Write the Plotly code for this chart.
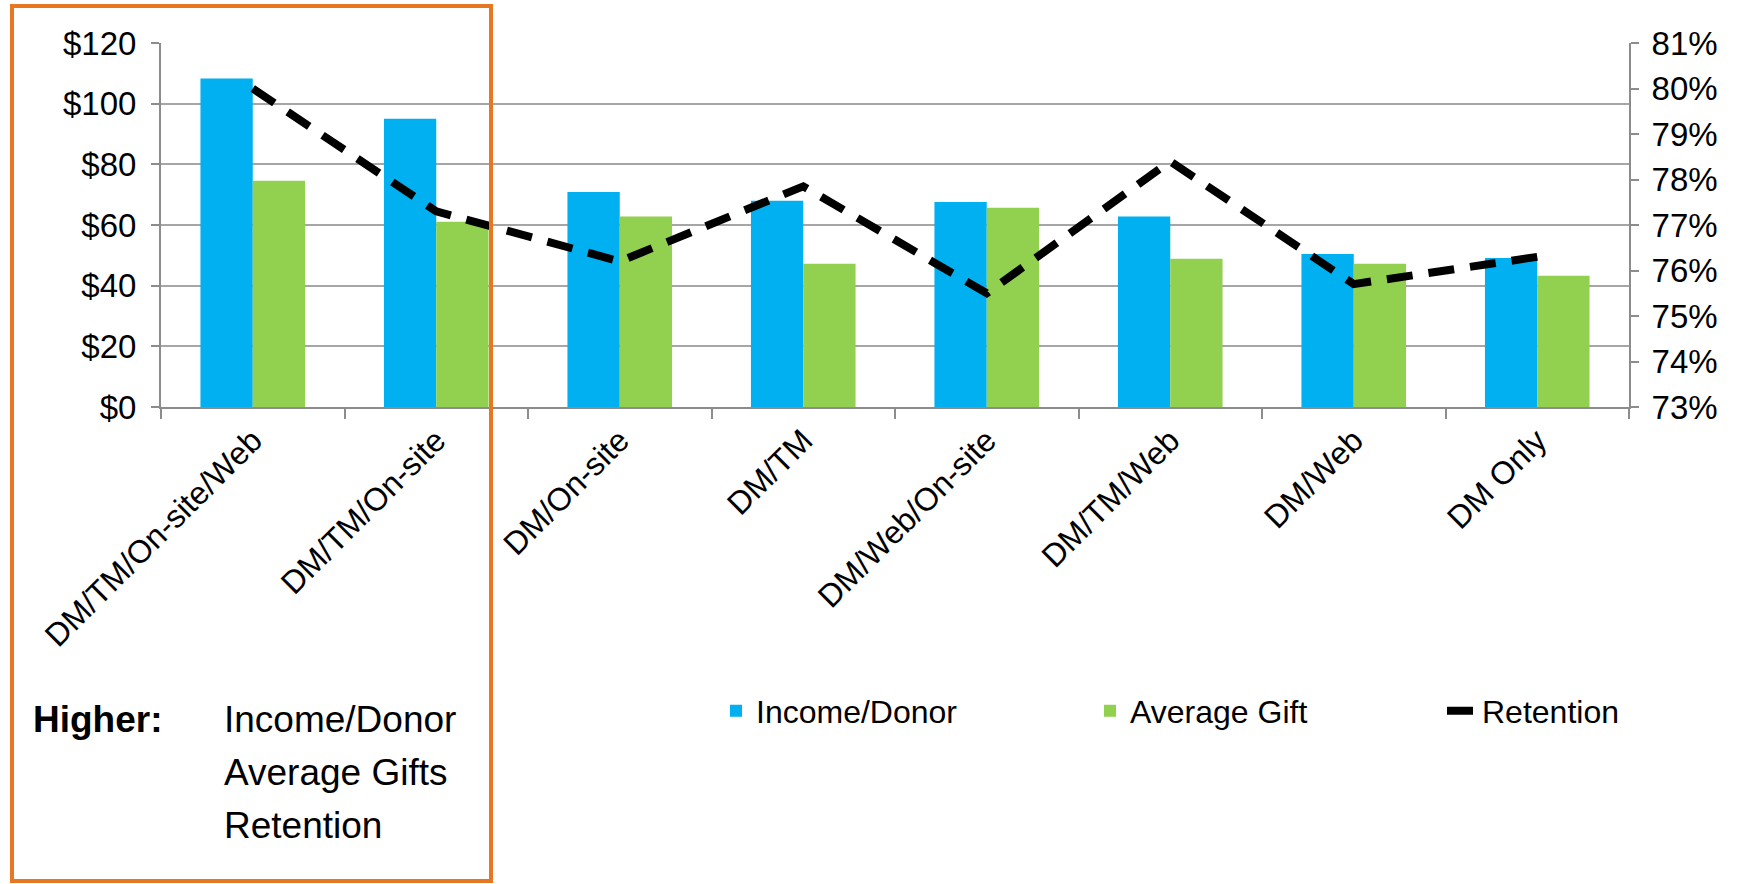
import plotly.graph_objects as go

categories = ["DM/TM/On-site/Web", "DM/TM/On-site", "DM/On-site", "DM/TM",
              "DM/Web/On-site", "DM/TM/Web", "DM/Web", "DM Only"]
income_per_donor = [108.3, 95.0, 70.9, 68.0, 67.6, 62.8, 50.4, 49.1]
average_gift = [74.6, 61.1, 62.8, 47.2, 65.7, 48.9, 47.2, 43.3]
retention = [80.0, 77.3, 76.2, 77.85, 75.5, 78.4, 75.7, 76.3]

left_ticks = [0, 20, 40, 60, 80, 100, 120]
left_labels = ["$" + str(v) for v in left_ticks]
right_ticks = [73, 74, 75, 76, 77, 78, 79, 80, 81]
right_labels = [str(v) + "%" for v in right_ticks]

FONT = "Liberation Sans, Arial, sans-serif"
GRID = "#A6A6A6"
AXIS = "#8C8C8C"

fig = go.Figure()
fig.add_trace(go.Bar(x=categories, y=income_per_donor, name="Income/Donor",
                     legendwidth=329,
                     marker=dict(color="#00B0F0", line=dict(width=0))))
fig.add_trace(go.Bar(x=categories, y=average_gift, name="Average Gift",
                     legendwidth=307,
                     marker=dict(color="#92D050", line=dict(width=0))))
fig.add_trace(go.Scatter(x=categories, y=retention, name="Retention", yaxis="y2",
                         mode="lines", legendwidth=200,
                         line=dict(color="black", width=8, dash="26px,16px")))

W, H = 1737, 884
L, R, T, B = 161, 108, 43, 477

pw, ph = W - L - R, H - T - B
def px(x):
    return (x - L) / pw
def py(y):
    return (H - B - y) / ph

fig.update_layout(
    width=W, height=H,
    margin=dict(l=L, r=R, t=T, b=B, autoexpand=False),
    paper_bgcolor="white", plot_bgcolor="white",
    font=dict(family=FONT, size=32, color="black"),
    barmode="group", bargap=0.43, bargroupgap=0,
    showlegend=True,
    legend=dict(orientation="h", x=px(716), xanchor="left", y=-0.835, yanchor="middle",
                font=dict(size=32, family=FONT), bgcolor="rgba(0,0,0,0)"),
    xaxis=dict(tickangle=-45, showline=True, linecolor=AXIS, linewidth=2,
               ticks="outside", tickson="boundaries", ticklen=10, tickcolor=AXIS, tickwidth=2,
               tickfont=dict(size=32), showgrid=False),
    yaxis=dict(range=[0, 120], tickmode="array", tickvals=left_ticks, ticktext=left_labels,
               showgrid=True, gridcolor=GRID, gridwidth=2, showline=True, linecolor=AXIS,
               linewidth=2, ticks="outside", ticklen=8, tickcolor=AXIS, tickwidth=2,
               ticklabelstandoff=8, zeroline=False, tickfont=dict(size=33)),
    yaxis2=dict(range=[73, 81], tickmode="array", tickvals=right_ticks, ticktext=right_labels,
                overlaying="y", side="right", showgrid=False, showline=True, linecolor=AXIS,
                linewidth=2, ticks="outside", ticklen=8, tickcolor=AXIS, tickwidth=2,
                ticklabelstandoff=6, zeroline=False, tickfont=dict(size=33)),
)

fig.add_shape(type="rect", xref="paper", yref="paper",
              x0=px(12), x1=px(491), y0=py(881), y1=py(6),
              line=dict(color="#E87722", width=4), fillcolor="rgba(0,0,0,0)")

fig.add_annotation(xref="paper", yref="paper", x=px(31), y=py(719), xanchor="left",
                   yanchor="middle", text="<b>Higher:</b>", showarrow=False,
                   font=dict(size=37, family=FONT, color="black"))
for txt, yy in [("Income/Donor", 719), ("Average Gifts", 772), ("Retention", 825)]:
    fig.add_annotation(xref="paper", yref="paper", x=px(222), y=py(yy), xanchor="left",
                       yanchor="middle", text=txt, showarrow=False,
                       font=dict(size=37, family=FONT, color="black"))

fig.write_html("out.html")
